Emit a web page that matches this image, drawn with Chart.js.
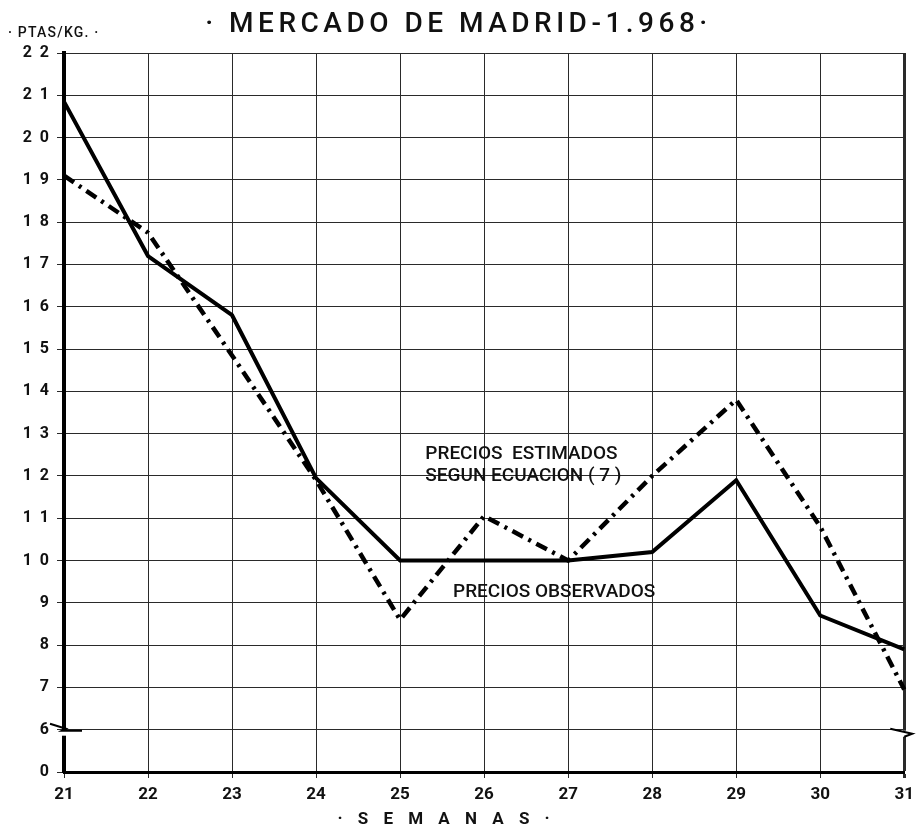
<!DOCTYPE html>
<html>
<head>
<meta charset="utf-8">
<title>Mercado de Madrid 1968</title>
<script src="https://cdn.jsdelivr.net/npm/chart.js@4"></script>
<style>
  html, body { margin: 0; padding: 0; background: #fff; }
  #wrap { width: 921px; height: 828px; }
</style>
</head>
<body>
<div id="wrap"><canvas id="precios"></canvas></div>
<script>
// Semanas 21 a 31
const semanas = ['21', '22', '23', '24', '25', '26', '27', '28', '29', '30', '31'];
// Ptas/Kg.
const preciosObservados = [20.85, 17.2, 15.8, 11.95, 10.0, 10.0, 10.0, 10.2, 11.9, 8.7, 7.9];
const preciosEstimados = [19.1, 17.75, 14.85, 11.9, 8.6, 11.05, 10.0, 12.0, 13.8, 10.8, 6.95];
// eje Y cortado: el primer escalon se rotula "0"
const valoresEje = [0, 6, 7, 8, 9, 10, 11, 12, 13, 14, 15, 16, 17, 18, 19, 20, 21, 22];

const titulo = '· MERCADO DE MADRID-1.968·';
const tituloY = '· PTAS/KG. ·';
const tituloX = '· S E M A N A S ·';
const notaEstimados = ['PRECIOS  ESTIMADOS', 'SEGUN ECUACION ( 7 )'];
const notaObservados = 'PRECIOS OBSERVADOS';

function rotuloY(v) {
    const s = String(v);
    return s.length > 1 ? s.split('').join('  ') : s;
}

// textos y cortes del eje
const rotulos = {
    id: 'rotulos',
    afterDraw(chart) {
        const ctx = chart.ctx;
        const area = chart.chartArea;
        const x = chart.scales.x;
        const y = chart.scales.y;
        ctx.save();
        ctx.fillStyle = '#111';
        ctx.textBaseline = 'middle';

        ctx.font = '500 28px Roboto';
        ctx.letterSpacing = '4.5px';
        ctx.textAlign = 'center';
        ctx.fillText(titulo, chart.width / 2 - 2, 25);

        ctx.font = '500 14px Roboto';
        ctx.letterSpacing = '1.2px';
        ctx.textAlign = 'left';
        ctx.fillText(tituloY, 8, 33);

        ctx.font = 'bold 17px Roboto';
        ctx.letterSpacing = '5.5px';
        ctx.textAlign = 'center';
        ctx.fillText(tituloX, x.getPixelForValue(4.55), 820);

        ctx.letterSpacing = '0px';
        ctx.font = '500 19px Roboto';
        ctx.textAlign = 'left';
        ctx.fillText(notaEstimados[0], x.getPixelForValue(4.3), y.getPixelForValue(12.52));
        ctx.fillText(notaEstimados[1], x.getPixelForValue(4.3), y.getPixelForValue(12.0));
        ctx.fillText(notaObservados, x.getPixelForValue(4.63), y.getPixelForValue(9.25));

        // cortes del eje en 6
        const y6 = y.getPixelForValue(6);
        ctx.fillStyle = '#fff';
        ctx.fillRect(area.left - 3, y6 + 1, 6, 5);
        ctx.fillRect(area.right - 3, y6 + 1, 6, 6);
        ctx.strokeStyle = '#000';
        ctx.lineWidth = 2;
        ctx.beginPath();
        ctx.moveTo(area.left - 14, y6 - 6);
        ctx.lineTo(area.left + 2, y6 - 1);
        ctx.lineTo(area.left - 2, y6 + 1);
        ctx.lineTo(area.left + 18, y6 + 1);
        ctx.moveTo(area.right - 14, y6 - 1);
        ctx.lineTo(area.right + 8, y6 + 4);
        ctx.lineTo(area.right, y6 + 7);
        ctx.stroke();
        ctx.restore();
    }
};

new Chart(document.getElementById('precios'), {
    type: 'line',
    data: {
        labels: semanas,
        datasets: [{
            label: notaObservados,
            data: preciosObservados,
            borderColor: '#000',
            borderWidth: 4,
            pointRadius: 0,
            tension: 0,
            borderJoinStyle: 'miter'
        }, {
            label: notaEstimados.join(' '),
            data: preciosEstimados,
            borderColor: '#000',
            borderWidth: 4.5,
            borderDash: [12, 6, 3, 6],
            pointRadius: 0,
            tension: 0
        }]
    },
    options: {
        responsive: true,
        maintainAspectRatio: false,
        animation: false,
        layout: { padding: { top: 53, right: 9, left: 0, bottom: 0 } },
        plugins: {
            legend: { display: false },
            tooltip: { enabled: false },
            title: { display: false }
        },
        scales: {
            x: {
                offset: false,
                grid: {
                    color: '#2a2a2a',
                    lineWidth: c => c.index === semanas.length - 1 ? 3 : 1,
                    tickLength: 6
                },
                border: { color: '#000', width: 3 },
                ticks: {
                    color: '#111',
                    font: { family: 'Roboto', size: 17, weight: 'bold' },
                    padding: 7,
                    maxRotation: 0,
                    autoSkip: false
                },
                afterFit: s => { s.height = 56; }
            },
            y: {
                min: 5,
                max: 22,
                grid: { color: '#2a2a2a', lineWidth: 1, tickLength: 7 },
                border: { color: '#000', width: 4 },
                ticks: {
                    stepSize: 1,
                    color: '#111',
                    font: { family: 'Roboto', size: 16, weight: 'bold' },
                    padding: 8,
                    callback: (v, i) => rotuloY(valoresEje[i])
                },
                afterFit: s => { s.width = 64; }
            }
        }
    },
    plugins: [rotulos]
});
</script>
</body>
</html>
